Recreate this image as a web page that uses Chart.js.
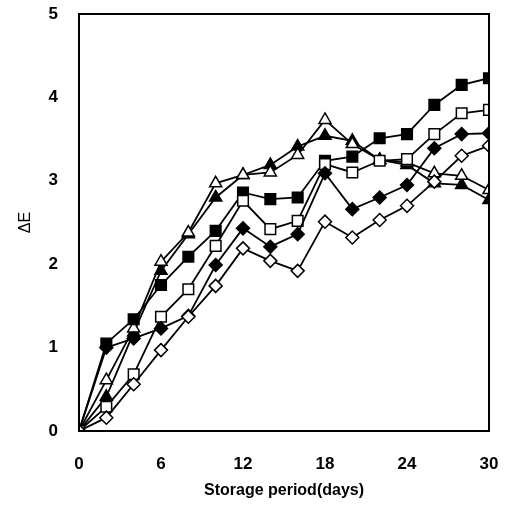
<!DOCTYPE html>
<html>
<head>
<meta charset="utf-8">
<script src="https://cdn.jsdelivr.net/npm/chart.js@4/dist/chart.umd.min.js"></script>
<style>
  html, body { margin: 0; padding: 0; background: #fff; }
  #wrap { width: 513px; height: 505px; }
</style>
</head>
<body>
<div id="wrap"><canvas id="grafico"></canvas></div>
<script>
// Días de almacenamiento
const days = [0, 2, 4, 6, 8, 10, 12, 14, 16, 18, 20, 22, 24, 26, 28, 30];

// Valores de ΔE por serie
const filledSquare  = [0, 1.05, 1.34, 1.75, 2.09, 2.40, 2.86, 2.78, 2.80, 3.24, 3.29, 3.51, 3.56, 3.91, 4.15, 4.23];
const openSquare    = [0, 0.29, 0.68, 1.37, 1.70, 2.22, 2.76, 2.42, 2.52, 3.20, 3.10, 3.24, 3.26, 3.56, 3.81, 3.85];
const filledDiamond = [0, 1.00, 1.11, 1.23, 1.38, 1.99, 2.43, 2.21, 2.36, 3.09, 2.66, 2.80, 2.95, 3.39, 3.56, 3.57];
const openDiamond   = [0, 0.16, 0.56, 0.97, 1.37, 1.74, 2.19, 2.04, 1.92, 2.51, 2.32, 2.53, 2.70, 2.99, 3.30, 3.42];
const filledTri     = [0, 0.41, 1.18, 1.92, 2.36, 2.80, 3.07, 3.19, 3.41, 3.54, 3.48, 3.25, 3.19, 2.97, 2.95, 2.77];
const openTri       = [0, 0.61, 1.23, 2.03, 2.38, 2.97, 3.07, 3.10, 3.31, 3.73, 3.44, 3.25, 3.22, 3.09, 3.06, 2.89];

const xTicks = [0, 6, 12, 18, 24, 30];

const toXY = vals => vals.map((v, i) => ({ x: days[i], y: v }));

function serie(vals, style, filled, radius) {
  return {
    data: toXY(vals),
    borderColor: '#000',
    borderWidth: 1.8,
    pointStyle: style,
    pointRadius: radius,
    pointHoverRadius: radius,
    pointBackgroundColor: filled ? '#000' : '#fff',
    pointBorderColor: '#000',
    pointBorderWidth: 1.5,
    showLine: true,
    fill: false,
    tension: 0
  };
}

// Marco alrededor del área del gráfico
const marco = {
  id: 'marco',
  afterDraw(chart) {
    const { ctx, chartArea: a } = chart;
    ctx.save();
    ctx.strokeStyle = '#000';
    ctx.lineWidth = 2;
    ctx.strokeRect(a.left, a.top, a.right - a.left, a.bottom - a.top);
    ctx.restore();
  }
};

const fuente = { family: '"Liberation Sans", Arial, sans-serif', size: 17, weight: 'bold' };

new Chart(document.getElementById('grafico').getContext('2d'), {
  type: 'scatter',
  data: {
    datasets: [
      serie(openDiamond, 'rectRot', false, 6.5),
      serie(filledDiamond, 'rectRot', true, 6.5),
      serie(openSquare, 'rect', false, 7.5),
      serie(filledSquare, 'rect', true, 7.5),
      serie(openTri, 'triangle', false, 7),
      serie(filledTri, 'triangle', true, 7)
    ]
  },
  options: {
    responsive: true,
    maintainAspectRatio: false,
    animation: false,
    layout: { padding: { top: 14, right: 24, left: 0, bottom: 0 } },
    plugins: { legend: { display: false }, tooltip: { enabled: false } },
    scales: {
      x: {
        type: 'linear',
        min: 0, max: 30,
        afterBuildTicks: s => { s.ticks = xTicks.map(v => ({ value: v })); },
        afterFit: s => { s.height = 74; s.paddingLeft = 0; s.paddingRight = 0; },
        grid: { display: false, drawTicks: false },
        border: { display: false },
        ticks: { color: '#000', font: fuente, padding: 23, maxRotation: 0 },
        title: {
          display: true, text: 'Storage period(days)', color: '#000',
          font: { family: '"Liberation Sans", Arial, sans-serif', size: 16, weight: 'bold' },
          padding: { top: 5, bottom: 5 }
        }
      },
      y: {
        min: 0, max: 5,
        afterFit: s => { s.width = 79; s.paddingTop = 0; s.paddingBottom = 0; },
        grid: { display: false, drawTicks: false },
        border: { display: false },
        ticks: { stepSize: 1, color: '#000', font: fuente, padding: 21 },
        title: {
          display: true, text: 'ΔE', color: '#000',
          font: { family: '"Liberation Sans", Arial, sans-serif', size: 16 },
          padding: { top: 16, bottom: 16 }
        }
      }
    }
  },
  plugins: [marco]
});
</script>
</body>
</html>
